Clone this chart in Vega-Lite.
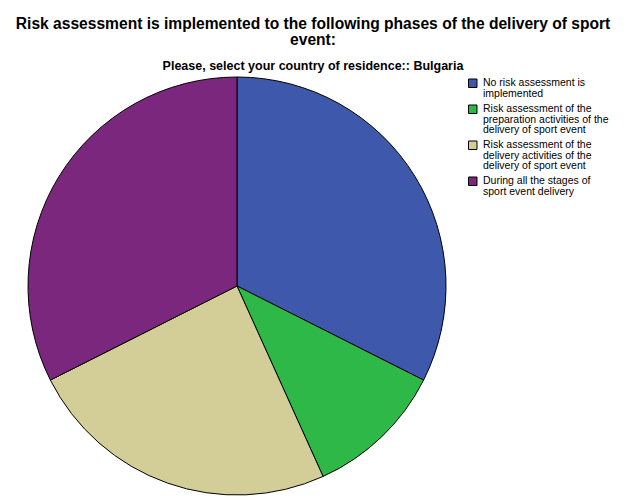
{
  "$schema": "https://vega.github.io/schema/vega-lite/v6.json",
  "width": 474,
  "height": 420,
  "autosize": "none",
  "padding": {"top": 76, "left": 0, "right": 152, "bottom": 5},
  "background": "white",
  "title": {
    "text": ["Risk assessment is implemented to the following phases of the delivery of sport", "event:"],
    "subtitle": "Please, select your country of residence:: Bulgaria",
    "font": "Liberation Sans",
    "fontSize": 15.6,
    "fontWeight": "bold",
    "color": "black",
    "lineHeight": 15.7,
    "subtitleFont": "Liberation Sans",
    "subtitleFontSize": 12.5,
    "subtitleFontWeight": "bold",
    "subtitleColor": "black",
    "subtitlePadding": 11,
    "anchor": "middle",
    "dx": 76,
    "offset": 3
  },
  "data": {
    "values": [
      {"category": "No risk assessment is implemented", "count": 12, "idx": 1},
      {"category": "Risk assessment of the preparation activities of the delivery of sport event", "count": 4, "idx": 2},
      {"category": "Risk assessment of the delivery activities of the delivery of sport event", "count": 9, "idx": 3},
      {"category": "During all the stages of sport event delivery", "count": 12, "idx": 4}
    ]
  },
  "mark": {"type": "arc", "outerRadius": 209, "stroke": "black", "strokeWidth": 1},
  "encoding": {
    "theta": {"field": "count", "type": "quantitative", "stack": true},
    "order": {"field": "idx", "type": "quantitative"},
    "color": {
      "field": "category",
      "type": "nominal",
      "sort": null,
      "scale": {
        "domain": [
          "No risk assessment is implemented",
          "Risk assessment of the preparation activities of the delivery of sport event",
          "Risk assessment of the delivery activities of the delivery of sport event",
          "During all the stages of sport event delivery"
        ],
        "range": ["#3e58ac", "#2eb848", "#d3ce97", "#7b277d"]
      },
      "legend": {
        "title": null,
        "orient": "none",
        "legendX": 467.5,
        "legendY": 2,
        "symbolType": "square",
        "symbolSize": 72,
        "symbolStrokeColor": "black",
        "symbolStrokeWidth": 1,
        "symbolOpacity": 1,
        "labelFont": "Liberation Sans",
        "labelFontSize": 10.5,
        "labelColor": "black",
        "labelOffset": 5,
        "labelLimit": 200,
        "rowPadding": 3,
        "labelExpr": "datum.label == 'No risk assessment is implemented' ? ['No risk assessment is', 'implemented'] : datum.label == 'Risk assessment of the preparation activities of the delivery of sport event' ? ['Risk assessment of the', 'preparation activities of the', 'delivery of sport event'] : datum.label == 'Risk assessment of the delivery activities of the delivery of sport event' ? ['Risk assessment of the', 'delivery activities of the', 'delivery of sport event'] : ['During all the stages of', 'sport event delivery']"
      }
    }
  },
  "config": {
    "view": {"stroke": null},
    "style": {"guide-label": {"lineHeight": 10.5}}
  }
}
